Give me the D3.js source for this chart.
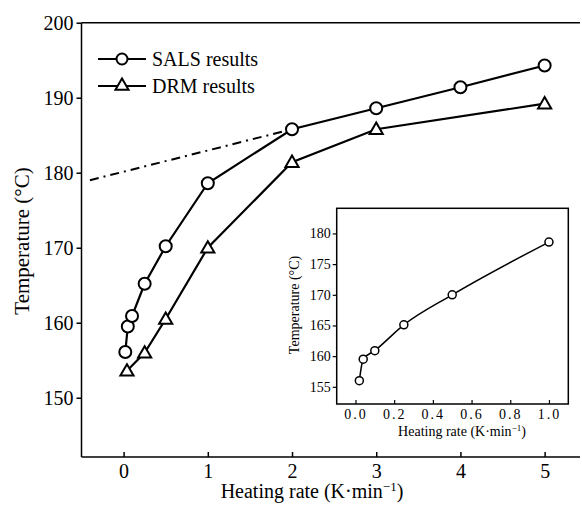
<!DOCTYPE html>
<html>
<head>
<meta charset="utf-8">
<script src="https://cdn.jsdelivr.net/npm/d3@7"></script>
<style>
  body { margin: 0; background: #fff; }
  text { font-family: "Liberation Serif", "DejaVu Serif", serif; fill: #000; }
</style>
</head>
<body>
<svg id="chart"></svg>
<script>
// data
const salsRate = [0.02, 0.05, 0.1, 0.25, 0.5, 1, 2, 3, 4, 5];
const salsTemp = [156.1, 159.5, 160.9, 165.2, 170.2, 178.6, 185.8, 188.6, 191.4, 194.3];
const drmRate = [0.04, 0.25, 0.5, 1, 2, 3, 5];
const drmTemp = [153.6, 156.0, 160.5, 170.0, 181.4, 185.8, 189.2];
// extrapolation (dash-dot)
const extRate = [-0.4, 2];
const extTemp = [179.0, 185.8];
// inset
const insetRate = [0.02, 0.04, 0.1, 0.25, 0.5, 1.0];
const insetTemp = [156.0, 159.5, 160.9, 165.1, 170.0, 178.6];

const xTicks = [0, 1, 2, 3, 4, 5];
const yTicks = [150, 160, 170, 180, 190, 200];
const insetXTicks = [0, 0.2, 0.4, 0.6, 0.8, 1.0];
const insetYTicks = [155, 160, 165, 170, 175, 180];

const width = 582;
const height = 505;
const svg = d3.select('svg#chart').attr('width', width).attr('height', height);

// main scales
const x = d3.scaleLinear().domain([-0.5, 5.42]).range([81.5, 580]);
const y = d3.scaleLinear().domain([142.1, 200]).range([457, 22.7]);

const zip = (a, b) => a.map((v, i) => [v, b[i]]);
const sals = zip(salsRate, salsTemp);
const drm = zip(drmRate, drmTemp);
const ext = zip(extRate, extTemp);

// frame: left, top, bottom
const g = svg.append('g');
g.append('line').attr('x1', x(-0.5)).attr('x2', x(-0.5)).attr('y1', y(200)).attr('y2', y(142.1))
  .attr('stroke', '#000').attr('stroke-width', 1.5);
g.append('line').attr('x1', x(-0.5)).attr('x2', x(5.42)).attr('y1', y(200)).attr('y2', y(200))
  .attr('stroke', '#000').attr('stroke-width', 1.5);
g.append('line').attr('x1', x(-0.5)).attr('x2', x(5.42)).attr('y1', y(142.1)).attr('y2', y(142.1))
  .attr('stroke', '#000').attr('stroke-width', 1.5);

// y axis
const yAxis = svg.append('g').attr('transform', `translate(${x(-0.5)},0)`)
  .call(d3.axisLeft(y).tickValues(yTicks).tickSize(5).tickPadding(3));
yAxis.select('.domain').remove();
yAxis.selectAll('line').attr('stroke-width', 1.5);
yAxis.selectAll('text').style('font-size', '20px').style('font-family', '"Liberation Serif", serif');

// x axis (ticks pointing inward)
const xAxis = svg.append('g').attr('transform', `translate(0,${y(142.1)})`)
  .call(d3.axisBottom(x).tickValues(xTicks).tickSize(-5).tickPadding(7).tickFormat(d3.format('d')));
xAxis.select('.domain').remove();
xAxis.selectAll('line').attr('stroke-width', 1.5);
xAxis.selectAll('text').style('font-size', '20px').style('font-family', '"Liberation Serif", serif');

// labels
svg.append('text').attr('x', 312).attr('y', 498).attr('text-anchor', 'middle')
  .style('font-size', '20px')
  .html('Heating rate (K\u00b7min<tspan dy="-7" font-size="13">\u22121</tspan><tspan dy="7">)</tspan>');
svg.append('text').attr('transform', 'translate(29,241) rotate(-90)').attr('text-anchor', 'middle')
  .style('font-size', '21px').text('Temperature (\u00b0C)');

const line = d3.line().x(d => x(d[0])).y(d => y(d[1]));

svg.append('path').datum(ext).attr('d', line).attr('fill', 'none')
  .attr('stroke', '#000').attr('stroke-width', 2).attr('stroke-dasharray', '9,5,2,5');

svg.append('path').datum(sals).attr('d', line).attr('fill', 'none')
  .attr('stroke', '#000').attr('stroke-width', 2.2);
svg.append('path').datum(drm).attr('d', line).attr('fill', 'none')
  .attr('stroke', '#000').attr('stroke-width', 2.2);

const tri = d3.symbol().type(d3.symbolTriangle).size(75);

svg.append('g').selectAll('circle').data(sals).enter().append('circle')
  .attr('cx', d => x(d[0])).attr('cy', d => y(d[1])).attr('r', 6)
  .attr('fill', '#fff').attr('stroke', '#000').attr('stroke-width', 2);
svg.append('g').selectAll('path').data(drm).enter().append('path')
  .attr('d', tri).attr('transform', d => `translate(${x(d[0])},${y(d[1]) + 1})`)
  .attr('fill', '#fff').attr('stroke', '#000').attr('stroke-width', 2);

// legend
const lg = svg.append('g');
lg.append('line').attr('x1', 98).attr('x2', 146).attr('y1', 59).attr('y2', 59)
  .attr('stroke', '#000').attr('stroke-width', 2);
lg.append('circle').attr('cx', 122).attr('cy', 59).attr('r', 5.5)
  .attr('fill', '#fff').attr('stroke', '#000').attr('stroke-width', 2);
lg.append('text').attr('x', 152).attr('y', 66).style('font-size', '20px').text('SALS results');
lg.append('line').attr('x1', 98).attr('x2', 146).attr('y1', 86).attr('y2', 86)
  .attr('stroke', '#000').attr('stroke-width', 2);
lg.append('path').attr('d', tri).attr('transform', 'translate(122,86)')
  .attr('fill', '#fff').attr('stroke', '#000').attr('stroke-width', 2);
lg.append('text').attr('x', 152).attr('y', 93).style('font-size', '20px').text('DRM results');

// inset
const ix = d3.scaleLinear().domain([-0.097, 1.1]).range([336.7, 568.3]);
const iy = d3.scaleLinear().domain([152.2, 184.1]).range([404, 208.3]);
const inset = svg.append('g');
inset.append('rect').attr('x', ix(-0.097)).attr('y', iy(184.1))
  .attr('width', ix(1.1) - ix(-0.097)).attr('height', iy(152.2) - iy(184.1))
  .attr('fill', '#fff').attr('stroke', '#000').attr('stroke-width', 1.5);

const iyAxis = inset.append('g').attr('transform', `translate(${ix(-0.097)},0)`)
  .call(d3.axisLeft(iy).tickValues(insetYTicks).tickSize(4).tickPadding(2));
iyAxis.select('.domain').remove();
iyAxis.selectAll('line').attr('stroke-width', 1.2);
iyAxis.selectAll('text').style('font-size', '14px').style('font-family', '"Liberation Serif", serif');

const ixAxis = inset.append('g').attr('transform', `translate(0,${iy(152.2)})`)
  .call(d3.axisBottom(ix).tickValues(insetXTicks).tickSize(-4).tickPadding(5)
    .tickFormat(d3.format('.1f')));
ixAxis.select('.domain').remove();
ixAxis.selectAll('line').attr('stroke-width', 1.2);
ixAxis.selectAll('text').style('font-size', '14px').style('font-family', '"Liberation Serif", serif')
  .style('letter-spacing', '2px');

inset.append('text').attr('x', 462).attr('y', 436).attr('text-anchor', 'middle')
  .style('font-size', '14px')
  .html('Heating rate (K\u00b7min<tspan dy="-5" font-size="9">\u22121</tspan><tspan dy="5">)</tspan>');
inset.append('text').attr('transform', 'translate(299,305) rotate(-90)').attr('text-anchor', 'middle')
  .style('font-size', '14px').text('Temperature (\u00b0C)');

const iline = d3.line().x(d => ix(d[0])).y(d => iy(d[1])).curve(d3.curveMonotoneX);
const ins = zip(insetRate, insetTemp);
inset.append('path').datum(ins).attr('d', iline).attr('fill', 'none')
  .attr('stroke', '#000').attr('stroke-width', 1.5);
inset.append('g').selectAll('circle').data(ins).enter().append('circle')
  .attr('cx', d => ix(d[0])).attr('cy', d => iy(d[1])).attr('r', 4)
  .attr('fill', '#fff').attr('stroke', '#000').attr('stroke-width', 1.5);
</script>
</body>
</html>
